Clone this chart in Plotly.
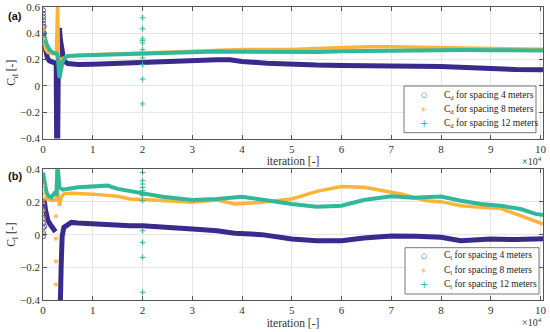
import plotly.graph_objects as go

# ---------------- data (iterations, coefficient values) ----------------
BLUE = "#3a2a8c"
ORANGE = "#fbb43a"
TEAL = "#31b89a"

# Panel (a): drag coefficient Cd
cd4_x = [0, 300, 600, 900, 1300, 2000, 2500, 2650, 2750, 2950, 3100, 3300, 3500, 3800, 4200, 5000, 7000,
         10000, 15000, 17500, 20000, 25000, 30000, 35000, 37600, 40000, 45000, 50000, 55000, 60000, 65000,
         70000, 75000, 80000, 85000, 90000, 95000, 100000, 100500]
cd4_y = [0.36, 0.30, 0.25, 0.21, 0.19, 0.175, 0.172, 0.17, -0.45, -0.45, 0.30, 0.44, 0.35, 0.25, 0.19, 0.17, 0.163,
         0.165, 0.172, 0.179, 0.186, 0.193, 0.198, 0.199, 0.198, 0.186, 0.172, 0.163, 0.158, 0.156, 0.156,
         0.156, 0.155, 0.148, 0.14, 0.128, 0.125, 0.123, 0.123]

cd8_x = [0, 500, 1000, 2000, 2700, 2800, 2950, 3100, 3500, 4000, 5000, 10000, 20000, 30000, 35000, 40000,
         45000, 50000, 55000, 60000, 65000, 70000, 75000, 80000, 85000, 90000, 95000, 100000, 100500]
cd8_y = [0.40, 0.28, 0.255, 0.245, 0.245, 0.65, 0.65, 0.22, 0.20, 0.21, 0.228, 0.237, 0.25, 0.262, 0.27, 0.276,
         0.276, 0.277, 0.285, 0.294, 0.298, 0.298, 0.294, 0.29, 0.287, 0.284, 0.281, 0.279, 0.278]

cd12_x = [0, 300, 700, 1300, 2000, 2700, 3000, 3200, 3350, 3600, 4000, 4400, 5000, 7000, 10000, 15000,
          17500, 20000, 25000, 30000, 35000, 40000, 45000, 50000, 55000, 60000, 65000, 70000, 75000, 80000,
          85000, 90000, 95000, 100000, 100500]
cd12_y = [0.42, 0.37, 0.32, 0.275, 0.252, 0.247, 0.22, 0.10, 0.06, 0.12, 0.19, 0.215, 0.228, 0.232, 0.235, 0.242,
          0.245, 0.249, 0.254, 0.26, 0.262, 0.259, 0.257, 0.255, 0.258, 0.264, 0.267, 0.27, 0.272, 0.273,
          0.273, 0.272, 0.27, 0.27, 0.27]

# scattered samples (a)
cd4_pts_x = [0, 0, 0, 0, 0, 0, 0, 0, 150, 200]
cd4_pts_y = [0.575, 0.55, 0.524, 0.50, 0.473, 0.448, 0.415, 0.38, 0.45, 0.40]
cd8_pts_x = [0, 0, 100]
cd8_pts_y = [0.45, 0.42, 0.36]
cd12_pts_x = [20000] * 11
cd12_pts_y = [0.518, 0.434, 0.357, 0.344, 0.327, 0.276, 0.25, 0.212, 0.161, 0.052, -0.137]

# Panel (b): lift coefficient Cl
cl4_x = [100, 300, 500, 700, 1000, 1400, 1700, 2100, 2500, None, 3400, 3500, 3650, 3850, 4200, 5000, 5700,
         7000, 10000, 15000, 17500, 20000, 24000, 30000, 35000, 38500, 44000, 50000, 55000, 60000, 64500,
         70000, 75000, 80000, 84000, 90000, 95000, 100000, 100500]
cl4_y = [0.21, 0.20, 0.15, 0.11, 0.086, 0.065, 0.052, 0.03, 0.018, None, -0.45, -0.40, -0.19, -0.01, 0.045, 0.065, 0.075,
         0.072, 0.066, 0.06, 0.055, 0.055, 0.05, 0.035, 0.024, 0.008, 0.0, -0.027, -0.037, -0.037, -0.02,
         -0.008, -0.01, -0.016, -0.037, -0.027, -0.03, -0.027, -0.025]

cl8_x = [200, 600, 1200, 2000, 2700, 2800, 3000, 3300, 3700, 4200, 5700, 10000, 15000, 17500, 20000, 24000,
         30000, 35000, 38500, 44000, 50000, 55000, 60000, 64500, 67800, 70000, 72000, 77000, 80000, 84000,
         88000, 92000, 96000, 100000, 100500]
cl8_y = [0.23, 0.22, 0.215, 0.21, 0.215, 0.40, 0.25, 0.177, 0.23, 0.25, 0.254, 0.248, 0.235, 0.218, 0.215, 0.208,
         0.198, 0.212, 0.188, 0.198, 0.218, 0.265, 0.295, 0.29, 0.275, 0.26, 0.249, 0.208, 0.202, 0.177,
         0.167, 0.16, 0.116, 0.075, 0.065]

cl12_x = [0, 300, 700, 1000, 1700, 2300, 2700, 2900, 3000, 3300, 4000, 7000, 10000, 13000, 15000, 17500,
          20000, 24000, 30000, 35000, 40000, 44000, 50000, 55000, 60000, 64500, 67800, 70000, 74500, 80000,
          84000, 88000, 92000, 96000, 99000, 100500]
cl12_y = [0.38, 0.32, 0.259, 0.239, 0.228, 0.254, 0.25, 0.40, 0.40, 0.29, 0.275, 0.29, 0.295, 0.30, 0.28, 0.265,
          0.253, 0.232, 0.212, 0.218, 0.232, 0.212, 0.188, 0.171, 0.177, 0.212, 0.228, 0.235, 0.226, 0.234,
          0.208, 0.188, 0.177, 0.157, 0.127, 0.12]

# scattered samples (b)
cl4_pts_x = [0, 0, 0, 0, 0, 0, 0, 0, 0, 200, 250]
cl4_pts_y = [0.20, 0.18, 0.16, 0.13, 0.10, 0.07, 0.04, 0.01, -0.01, 0.12, 0.05]
cl8_pts_x = [0, 0, 0, 0, 0, 0, 2600, 2600, 2600, 2600]
cl8_pts_y = [0.30, 0.25, 0.20, 0.15, 0.10, 0.02, 0.113, -0.024, -0.163, -0.305]
cl12_pts_x = [20000] * 11
cl12_pts_y = [0.381, 0.33, 0.31, 0.289, 0.269, 0.239, 0.208, 0.024, -0.047, -0.139, -0.353]

x_ticks = [0, 10000, 20000, 30000, 40000, 50000, 60000, 70000, 80000, 90000, 100000]
x_ticktext = ["0", "1", "2", "3", "4", "5", "6", "7", "8", "9", "10"]
cd_ticks = [-0.4, -0.2, 0, 0.2, 0.4, 0.6]
cd_ticktext = ["\u22120.4", "\u22120.2", "0", "0.2", "0.4", "0.6"]
cl_ticks = [-0.4, -0.2, 0, 0.2, 0.4]
cl_ticktext = ["\u22120.4", "\u22120.2", "0", "0.2", "0.4"]

legend_a = ["C<sub>d</sub> for spacing 4 meters", "C<sub>d</sub> for spacing 8 meters",
            "C<sub>d</sub> for spacing 12 meters"]
legend_b = ["C<sub>l</sub> for spacing 4 meters", "C<sub>l</sub> for spacing 8 meters",
            "C<sub>l</sub> for spacing 12 meters"]

# ---------------- geometry helpers (window pixels -> paper coords) ----------------
FIG_W, FIG_H = 550, 332
ML, MR, MT, MB = 43, 7, 7, 32
PW = FIG_W - ML - MR
PH = FIG_H - MT - MB

def px(xwin):
    return (xwin - ML) / PW

def py(ywin):
    return (PH - (ywin - MT)) / PH

# ---------------- figure ----------------
fig = go.Figure()

def line(x, y, color, w, xa, ya):
    fig.add_trace(go.Scatter(x=x, y=y, mode="lines", line=dict(color=color, width=w),
                             connectgaps=False, showlegend=False, hoverinfo="skip",
                             xaxis=xa, yaxis=ya))

def pts(x, y, color, sym, size, xa, ya):
    fig.add_trace(go.Scatter(x=x, y=y, mode="markers", showlegend=False,
                             marker=dict(symbol=sym, size=size, color=color,
                                         line=dict(color=color, width=1)),
                             xaxis=xa, yaxis=ya))

line(cd4_x, cd4_y, BLUE, 5, "x", "y")
line(cd8_x, cd8_y, ORANGE, 3.5, "x", "y")
line(cd12_x, cd12_y, TEAL, 4, "x", "y")
pts(cd4_pts_x, cd4_pts_y, "#5a55b0", "circle-open", 5, "x", "y")
pts(cd8_pts_x, cd8_pts_y, ORANGE, "asterisk-open", 4, "x", "y")
pts(cd12_pts_x, cd12_pts_y, TEAL, "cross-thin-open", 4, "x", "y")

line(cl4_x, cl4_y, BLUE, 5, "x2", "y2")
line(cl8_x, cl8_y, ORANGE, 3.5, "x2", "y2")
line(cl12_x, cl12_y, TEAL, 4, "x2", "y2")
pts(cl4_pts_x, cl4_pts_y, "#5a55b0", "circle-open", 5, "x2", "y2")
pts(cl8_pts_x, cl8_pts_y, ORANGE, "asterisk-open", 4, "x2", "y2")
pts(cl12_pts_x, cl12_pts_y, TEAL, "cross-thin-open", 4, "x2", "y2")

SERIF = "Liberation Serif"
AX = "#555555"
GRID = "#e6e6e6"
tickfont = dict(family=SERIF, size=11, color="#333333")
titlefont = dict(family=SERIF, size=11.5, color="#333333")

common_x = dict(range=[0, 100500], tickvals=x_ticks, ticktext=x_ticktext, showgrid=True, gridcolor=GRID,
                zeroline=False, showline=True, linecolor=AX, linewidth=0.8, mirror="ticks", ticks="inside",
                ticklen=4, tickcolor=AX, tickfont=tickfont, automargin=False)
common_y = dict(showgrid=True, gridcolor=GRID, zeroline=False, showline=True, linecolor=AX, linewidth=0.8,
                mirror="ticks", ticks="inside", ticklen=4, tickcolor=AX, tickfont=tickfont, automargin=False)

fig.update_layout(
    width=FIG_W, height=FIG_H, margin=dict(l=ML, r=MR, t=MT, b=MB),
    plot_bgcolor="white", paper_bgcolor="white", showlegend=False,
    xaxis=dict(common_x, domain=[0, 1], anchor="y",
               title=dict(text="iteration [-]", font=titlefont, standoff=3)),
    yaxis=dict(common_y, domain=[py(138.5), 1.0], anchor="x", range=[-0.4, 0.6], tickvals=cd_ticks,
               ticktext=cd_ticktext, title=dict(text="C<sub>d</sub> [-]", font=titlefont, standoff=1)),
    xaxis2=dict(common_x, domain=[0, 1], anchor="y2",
                title=dict(text="iteration [-]", font=titlefont, standoff=3)),
    yaxis2=dict(common_y, domain=[0.0, py(169.3)], anchor="x2", range=[-0.4, 0.4], tickvals=cl_ticks,
                ticktext=cl_ticktext, title=dict(text="C<sub>l</sub> [-]", font=titlefont, standoff=1)),
)

# legend boxes (drawn manually to match the compact row spacing)
legend_specs = [
    (legend_a, 404, 536, 86, 132.7, [95, 109.3, 123.3]),
    (legend_b, 405, 539, 247.7, 294, [255.5, 270, 284.3]),
]
colors = [BLUE, ORANGE, TEAL]
key_chars = ["\u25cb", "*", "+"]
key_sizes = [7, 10, 10]
key_shift = [0, -2, 0]
for labels, x0, x1, y0, y1, rows in legend_specs:
    fig.add_shape(type="rect", xref="paper", yref="paper", x0=px(x0), x1=px(x1), y0=py(y1), y1=py(y0),
                  line=dict(color="#555555", width=0.8), fillcolor="white", layer="above")
    for lab, ry, c, ch, ks, sh in zip(labels, rows, colors, key_chars, key_sizes, key_shift):
        fig.add_annotation(text=lab, xref="paper", yref="paper", x=px(442), y=py(ry),
                           xanchor="left", yanchor="middle", showarrow=False,
                           font=dict(family=SERIF, size=9.5, color="#222222"))
        fig.add_annotation(text=ch, xref="paper", yref="paper", x=px(423.5), y=py(ry), yshift=sh,
                           xanchor="center", yanchor="middle", showarrow=False,
                           font=dict(family="DejaVu Sans", size=ks, color=c))

# panel labels and x10^4 multipliers
fig.add_annotation(text="<b>(a)</b>", xref="paper", yref="paper", x=px(15), y=py(16),
                   xanchor="center", yanchor="middle", showarrow=False,
                   font=dict(family="Liberation Sans", size=11, color="#111111"))
fig.add_annotation(text="<b>(b)</b>", xref="paper", yref="paper", x=px(15), y=py(176),
                   xanchor="center", yanchor="middle", showarrow=False,
                   font=dict(family="Liberation Sans", size=11, color="#111111"))
fig.add_annotation(text="\u00d710<sup>4</sup>", xref="paper", yref="paper", x=px(544), y=py(161),
                   xanchor="right", yanchor="middle", showarrow=False,
                   font=dict(family=SERIF, size=10, color="#333333"))
fig.add_annotation(text="\u00d710<sup>4</sup>", xref="paper", yref="paper", x=px(544), y=py(321.5),
                   xanchor="right", yanchor="middle", showarrow=False,
                   font=dict(family=SERIF, size=10, color="#333333"))

# remove the default 8px page margin so the 550x332 figure fills the window exactly
fig.write_html("out.html", config={"displayModeBar": False},
               post_script="document.body.style.margin='0px';")
